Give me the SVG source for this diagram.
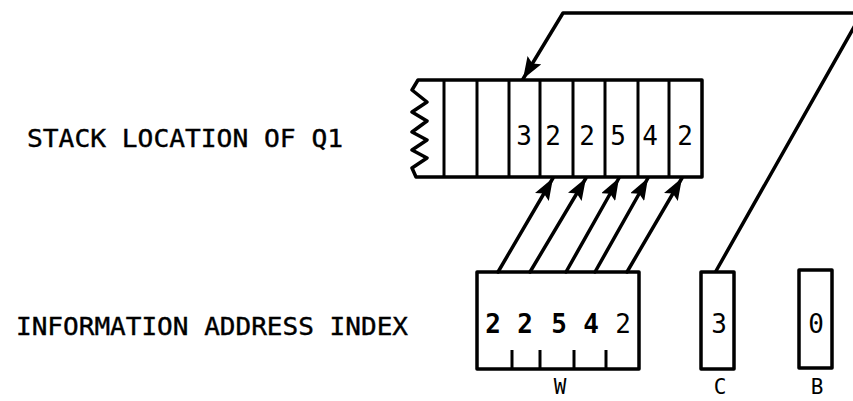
<svg xmlns="http://www.w3.org/2000/svg" width="853" height="401" viewBox="0 0 853 401">
<style>
.ln{fill:none;stroke:#000;stroke-width:3.5;stroke-linejoin:round;stroke-linecap:round}
.thin{fill:none;stroke:#000;stroke-width:3}
.lbl{font-family:"DejaVu Sans Mono","Liberation Mono",monospace;font-size:25px;fill:#000;stroke:#000;stroke-width:0.4}
.dg{font-family:"DejaVu Sans Mono","Liberation Mono",monospace;font-size:26px;fill:#000;text-anchor:middle}
.b{font-weight:bold}
.sm{font-family:"DejaVu Sans Mono","Liberation Mono",monospace;font-size:21px;fill:#000;text-anchor:middle}
</style>
<defs>
<marker id="ah" viewBox="0 0 22 16" refX="22" refY="8" markerWidth="22" markerHeight="16" markerUnits="userSpaceOnUse" orient="auto">
<path d="M0,0 L22,8 L0,16 L4,8 z" fill="#000"/>
</marker>
</defs>
<rect width="853" height="401" fill="#fff"/>
<text class="lbl" x="27" y="147" textLength="316" lengthAdjust="spacingAndGlyphs">STACK LOCATION OF Q1</text>
<text class="lbl" x="16" y="335" textLength="392" lengthAdjust="spacingAndGlyphs">INFORMATION ADDRESS INDEX</text>
<g id="stack">
<path class="ln" d="M702,80 L418,80 L412,90 L427,102 L412,112 L427,121 L412,132 L427,140 L412,150 L427,158 L412,168 L416,177 L702,177 Z"/>
<g class="thin">
<line x1="444" y1="80" x2="444" y2="177"/>
<line x1="477" y1="80" x2="477" y2="177"/>
<line x1="509" y1="80" x2="509" y2="177"/>
<line x1="540" y1="80" x2="540" y2="177"/>
<line x1="573" y1="80" x2="573" y2="177"/>
<line x1="605" y1="80" x2="605" y2="177"/>
<line x1="638" y1="80" x2="638" y2="177"/>
<line x1="669" y1="80" x2="669" y2="177"/>
</g>
<text class="dg" x="524" y="145">3</text>
<text class="dg" x="553" y="145">2</text>
<text class="dg" x="587" y="145">2</text>
<text class="dg" x="618" y="145">5</text>
<text class="dg" x="650" y="145">4</text>
<text class="dg" x="685" y="145">2</text>
</g>
<g id="w">
<rect class="ln" x="477" y="272" width="162" height="97"/>
<g class="thin">
<line x1="512" y1="350" x2="512" y2="369"/>
<line x1="540" y1="350" x2="540" y2="369"/>
<line x1="574" y1="350" x2="574" y2="369"/>
<line x1="606" y1="350" x2="606" y2="369"/>
</g>
<text class="dg b" x="493" y="333">2</text>
<text class="dg b" x="525" y="333">2</text>
<text class="dg b" x="559" y="333">5</text>
<text class="dg b" x="591" y="333">4</text>
<text class="dg" x="623" y="333">2</text>
<text class="sm" x="560" y="394">W</text>
</g>
<g id="c">
<rect class="ln" x="701" y="272" width="33" height="97"/>
<text class="dg" x="719" y="333">3</text>
<text class="sm" x="720" y="394">C</text>
</g>
<g id="b">
<rect class="ln" x="799" y="270" width="33" height="98"/>
<text class="dg" x="816" y="333">0</text>
<text class="sm" x="817" y="394">B</text>
</g>
<g id="connectors" class="ln" marker-end="url(#ah)">
<line x1="498" y1="272" x2="553" y2="178"/>
<line x1="530" y1="272" x2="586" y2="178"/>
<line x1="566" y1="272" x2="619" y2="178"/>
<line x1="595" y1="272" x2="648" y2="178"/>
<line x1="627" y1="272" x2="682" y2="178"/>
<polyline points="716,271 862,13 563,13 523,79"/>
</g>
</svg>
